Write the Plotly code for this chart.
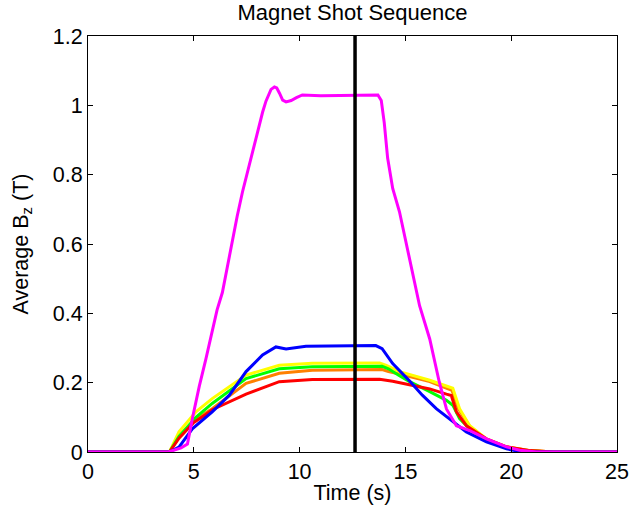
import plotly.graph_objects as go

# ---- data ----
t_orange = [0, 3.85, 4.3, 5.1, 5.87, 7.47, 9.04, 10.6, 13.9, 14.2, 14.72, 16.15, 17.2, 17.5, 18.04, 18.83, 19.78, 20.9, 22, 25]
b_orange = [0, 0, 0.045, 0.095, 0.125, 0.198, 0.227, 0.236, 0.238, 0.232, 0.225, 0.203, 0.178, 0.125, 0.074, 0.036, 0.014, 0.004, 0, 0]

t_yellow = [0, 3.85, 4.3, 5.1, 5.87, 7.47, 9.04, 10.6, 13.78, 14.1, 14.72, 16.15, 17.24, 17.56, 18.04, 18.83, 19.78, 20.9, 22, 25]
b_yellow = [0, 0, 0.058, 0.116, 0.154, 0.222, 0.25, 0.256, 0.257, 0.25, 0.232, 0.207, 0.184, 0.125, 0.076, 0.038, 0.015, 0.004, 0, 0]

t_green = [0, 3.85, 4.3, 5.1, 5.87, 7.47, 9.04, 10.6, 13.9, 14.2, 14.72, 15.2, 16.15, 16.94, 17.24, 17.56, 18.04, 18.83, 19.78, 20.9, 22, 25]
b_green = [0, 0, 0.045, 0.1, 0.14, 0.212, 0.24, 0.246, 0.247, 0.24, 0.22, 0.203, 0.174, 0.149, 0.135, 0.096, 0.067, 0.033, 0.012, 0.003, 0, 0]

t_red = [0, 3.85, 4.3, 5.0, 5.57, 5.87, 7.47, 9.04, 10.6, 13.78, 14.4, 15.35, 16.15, 16.94, 17.17, 17.41, 17.88, 18.83, 19.78, 20.9, 22, 25]
b_red = [0, 0, 0.04, 0.085, 0.108, 0.122, 0.167, 0.203, 0.209, 0.21, 0.204, 0.192, 0.182, 0.167, 0.163, 0.116, 0.076, 0.038, 0.015, 0.004, 0, 0]

t_blue = [0, 3.85, 4.3, 4.93, 5.87, 6.68, 7.47, 8.25, 8.88, 9.36, 10.3, 12.2, 13.6, 13.9, 14.4, 15.2, 15.8, 16.46, 17.1, 17.88, 18.83, 19.78, 20.5, 25]
b_blue = [0, 0, 0.014, 0.067, 0.116, 0.164, 0.232, 0.28, 0.303, 0.297, 0.305, 0.305, 0.307, 0.298, 0.255, 0.205, 0.164, 0.125, 0.096, 0.058, 0.029, 0.009, 0, 0]

t_magenta = [0, 3.8, 4.4, 4.7, 4.93, 5.26, 5.57, 5.87, 6.1, 6.35, 6.6, 6.83, 7.05, 7.3, 7.5, 7.7, 7.9, 8.1, 8.25, 8.41, 8.55, 8.65, 8.81, 8.92, 9.05, 9.2, 9.36, 9.6, 9.85, 10.13, 11, 12, 13, 13.7, 13.86, 14.0, 14.16, 14.4, 14.72, 15.2, 15.67, 16.15, 16.6, 16.94, 17.41, 18.04, 18.83, 19.78, 20.4, 21.2, 25]
b_magenta = [0, 0, 0.012, 0.023, 0.096, 0.19, 0.268, 0.354, 0.41, 0.46, 0.54, 0.605, 0.68, 0.75, 0.8, 0.845, 0.9, 0.943, 0.98, 1.012, 1.035, 1.046, 1.053, 1.05, 1.035, 1.015, 1.01, 1.014, 1.022, 1.03, 1.028, 1.028, 1.029, 1.03, 1.014, 0.95, 0.848, 0.76, 0.693, 0.558, 0.422, 0.326, 0.202, 0.124, 0.076, 0.062, 0.038, 0.015, 0.005, 0, 0]

t_marker = 12.62
marker_span = [0, 1.2]

x_ticks = [0, 5, 10, 15, 20, 25]
y_ticks = [0, 0.2, 0.4, 0.6, 0.8, 1.0, 1.2]
y_ticklabels = ["0", "0.2", "0.4", "0.6", "0.8", "1", "1.2"]

series = [
    (t_orange, b_orange, "#FF8000"),
    (t_yellow, b_yellow, "#FFFF00"),
    (t_green, b_green, "#00FF00"),
    (t_red, b_red, "#FF0000"),
    (t_blue, b_blue, "#0000FF"),
    (t_magenta, b_magenta, "#FF00FF"),
]

fig = go.Figure()
for t, b, c in series:
    fig.add_trace(go.Scatter(x=t, y=b, mode="lines", line=dict(color=c, width=3),
                             showlegend=False, hoverinfo="skip"))

fig.add_trace(go.Scatter(x=[t_marker, t_marker], y=marker_span, mode="lines",
                         line=dict(color="black", width=3.5), showlegend=False, hoverinfo="skip"))

font = "Liberation Sans, Arial, Helvetica, sans-serif"
fs = 21.5
fig.update_layout(
    width=630, height=512,
    margin=dict(l=88, r=13, t=36, b=60),
    paper_bgcolor="white", plot_bgcolor="white",
    font=dict(family=font, size=fs, color="black"),
    title=dict(text="Magnet Shot Sequence", x=(88 + 617) / 2 / 630, xanchor="center",
               y=1 - 12 / 512, yref="container", yanchor="middle",
               font=dict(size=22, family=font, color="black")),
    xaxis=dict(range=[0, 25], tickvals=x_ticks, ticks="inside", ticklen=5, tickwidth=1,
               tickcolor="black", showline=True, linecolor="black", linewidth=1, mirror="ticks",
               showgrid=False, zeroline=False, tickfont=dict(size=fs), automargin=False,
               title=dict(text="Time (s)", standoff=2, font=dict(size=fs))),
    yaxis=dict(range=[0, 1.2], tickvals=y_ticks, ticktext=y_ticklabels, ticks="inside",
               ticklen=5, tickwidth=1, tickcolor="black", showline=True, linecolor="black",
               linewidth=1, mirror="ticks", showgrid=False, zeroline=False,
               tickfont=dict(size=fs), automargin=False,
               title=dict(text="Average B<sub>z</sub> (T)", standoff=18, font=dict(size=fs))),
)

fig.write_html("out.html")
